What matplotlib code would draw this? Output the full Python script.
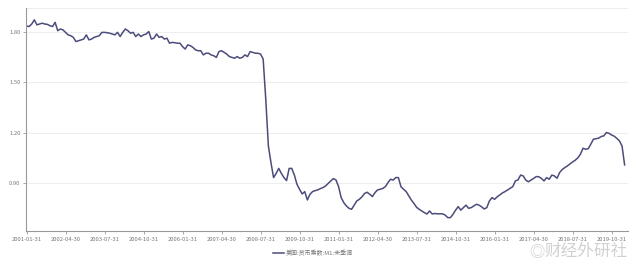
import numpy as np
import matplotlib
matplotlib.use("Agg")
import matplotlib.pyplot as plt

plt.rcParams['font.family'] = ['Noto Sans CJK SC', 'DejaVu Sans']

# 美国:货币乘数:M1:未季调, monthly 2001-01 .. 2020-03
m1_mult = [
    # 2001
    1.838, 1.835, 1.850, 1.875, 1.845, 1.850, 1.855, 1.850, 1.848, 1.840, 1.835, 1.860,
    # 2002
    1.810, 1.820, 1.815, 1.800, 1.785, 1.780, 1.770, 1.745, 1.750, 1.755, 1.760, 1.785,
    # 2003
    1.755, 1.760, 1.770, 1.775, 1.780, 1.800, 1.800, 1.798, 1.795, 1.790, 1.785, 1.800,
    # 2004
    1.775, 1.800, 1.820, 1.810, 1.795, 1.800, 1.775, 1.790, 1.775, 1.785, 1.790, 1.805,
    # 2005
    1.760, 1.765, 1.790, 1.770, 1.775, 1.760, 1.765, 1.735, 1.740, 1.738, 1.735, 1.735,
    # 2006
    1.715, 1.700, 1.725, 1.720, 1.710, 1.695, 1.690, 1.690, 1.665, 1.675, 1.675, 1.665,
    # 2007
    1.660, 1.650, 1.685, 1.690, 1.680, 1.670, 1.655, 1.650, 1.645, 1.655, 1.645, 1.650,
    # 2008
    1.665, 1.655, 1.685, 1.680, 1.675, 1.675, 1.670, 1.640, 1.400, 1.120, 1.020, 0.930,
    # 2009
    0.955, 0.985, 0.955, 0.930, 0.912, 0.985, 0.985, 0.945, 0.890, 0.860, 0.832, 0.846,
    # 2010
    0.796, 0.830, 0.846, 0.852, 0.856, 0.864, 0.870, 0.880, 0.895, 0.910, 0.924, 0.916,
    # 2011
    0.876, 0.810, 0.780, 0.760, 0.746, 0.740, 0.765, 0.790, 0.800, 0.815, 0.835, 0.842,
    # 2012
    0.830, 0.816, 0.840, 0.856, 0.860, 0.865, 0.876, 0.900, 0.920, 0.915, 0.930, 0.930,
    # 2013
    0.875, 0.860, 0.846, 0.820, 0.795, 0.775, 0.752, 0.740, 0.730, 0.720, 0.712, 0.730,
    # 2014
    0.712, 0.715, 0.713, 0.713, 0.713, 0.705, 0.690, 0.690, 0.710, 0.735, 0.756, 0.735,
    # 2015
    0.750, 0.765, 0.746, 0.750, 0.760, 0.770, 0.765, 0.755, 0.742, 0.750, 0.790, 0.810,
    # 2016
    0.800, 0.815, 0.826, 0.838, 0.846, 0.856, 0.866, 0.876, 0.910, 0.916, 0.945, 0.940,
    # 2017
    0.915, 0.905, 0.915, 0.925, 0.936, 0.935, 0.925, 0.910, 0.930, 0.920, 0.945, 0.940,
    # 2018
    0.926, 0.960, 0.978, 0.990, 1.000, 1.012, 1.024, 1.034, 1.048, 1.070, 1.106, 1.100,
    # 2019
    1.103, 1.130, 1.160, 1.163, 1.166, 1.176, 1.180, 1.200, 1.195, 1.185, 1.178, 1.165,
    # 2020
    1.150, 1.120, 1.006,
]

tick_labels = ['2001-01-31', '2002-04-30', '2003-07-31', '2004-10-31', '2006-01-31',
               '2007-04-30', '2008-07-31', '2009-10-31', '2011-01-31', '2012-04-30',
               '2013-07-31', '2014-10-31', '2016-01-31', '2017-04-30', '2018-07-31',
               '2019-10-31']
y_ticks = [0.90, 1.20, 1.50, 1.80]
legend_name = '美国:货币乘数:M1:未季调'

x = np.arange(len(m1_mult))
tick_pos = np.arange(len(tick_labels)) * 15

fig = plt.figure(figsize=(6.4, 2.69), dpi=100)
ax = fig.add_axes([26 / 640, 38 / 269, 602 / 640, 223 / 269])

line, = ax.plot(x, m1_mult, color='#4b4c7a', lw=1.1, label=legend_name)

ax.set_xlim(-0.2, 231.3)
ax.set_ylim(0.61, 1.946)
ax.set_yticks(y_ticks)
ax.set_yticklabels([f'{v:.2f}' for v in y_ticks])
ax.set_xticks(tick_pos)
ax.set_xticklabels(tick_labels)

ax.grid(axis='y', color='#eeeeee', lw=0.8)
ax.set_axisbelow(True)
for s in ['top', 'right']:
    ax.spines[s].set_visible(False)
ax.axhline(1.946, color='#eeeeee', lw=0.8)
ax.spines['left'].set_color('#999999')
ax.spines['bottom'].set_color('#999999')
ax.tick_params(axis='both', labelsize=4.2, colors='#999999', labelcolor='#777777',
               length=2, width=0.6, pad=2)

fig.legend(handles=[line], loc='center', bbox_to_anchor=(313 / 640, 1 - 253 / 269),
           frameon=False, fontsize=4.3, handlelength=1.8, labelcolor='#777777',
           handletextpad=0.4)

# watermark
fig.text(628 / 640, 1 - 251 / 269, '财经外研社', ha='right', va='center',
         fontsize=12, color='#cccccc', alpha=0.9)
fig.text(545 / 640, 1 - 252 / 269, '◎', ha='right', va='center',
         fontsize=11, color='#cccccc', alpha=0.9)

fig.savefig('out.png', dpi=100)
